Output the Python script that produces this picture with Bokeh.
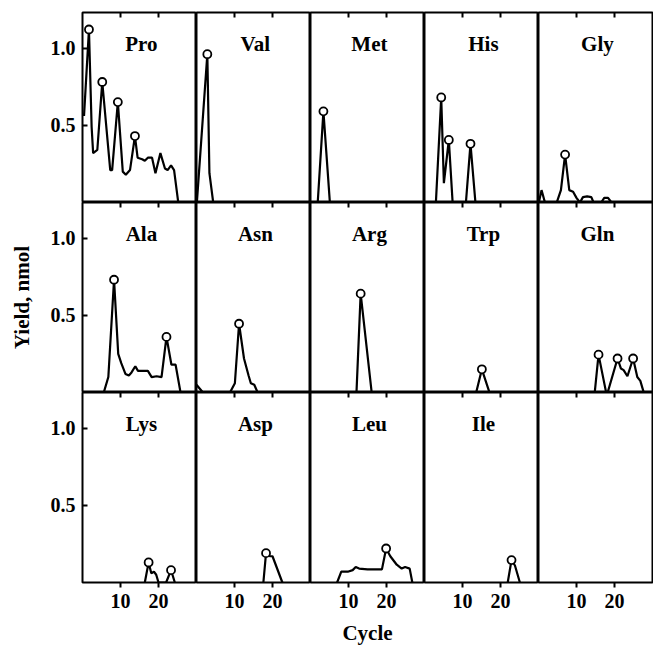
from bokeh.plotting import figure
from bokeh.layouts import gridplot
from bokeh.models import LinearAxis, FixedTicker, Label, ColumnDataSource, PrintfTickFormatter
from bokeh.embed import file_html
from bokeh.resources import INLINE

# ---------------- data ----------------
X_TICKS = [10, 20]
Y_TICKS = [0.5, 1.0]
X_RANGE = (0, 30)
Y_RANGE = (0, 1.23)

PRO_X = [0.4, 1.7, 2.4, 2.8, 3.9, 5.2, 7.3, 7.8, 9.3, 10.6, 11.4, 12.5, 13.8, 14.5,
         15.7, 16.4, 17.2, 18.3, 19.2, 20.5, 21.7, 22.4, 23.3, 24.1, 25.2]
PRO_Y = [0.56, 1.12, 0.49, 0.32, 0.34, 0.78, 0.21, 0.21, 0.65, 0.20, 0.18, 0.21, 0.43, 0.29,
         0.28, 0.27, 0.29, 0.29, 0.19, 0.32, 0.22, 0.21, 0.24, 0.21, 0.0]
PRO_MARK = [1, 5, 8, 12]

VAL_X = [0.1, 2.85, 3.4, 4.4]
VAL_Y = [0.0, 0.96, 0.19, 0.0]
VAL_MARK = [1]

MET_X = [1.9, 3.4, 5.1]
MET_Y = [0.0, 0.59, 0.0]
MET_MARK = [1]

HIS_X = [3.0, 4.4, 5.1, 6.4, 7.4, 10.9, 12.1, 13.4]
HIS_Y = [0.0, 0.68, 0.125, 0.405, 0.0, 0.0, 0.38, 0.0]
HIS_MARK = [1, 3, 6]

GLY_X = [0.1, 0.8, 1.7, 4.8, 5.9, 7.0, 8.1, 9.1, 10.0, 10.9, 11.7, 12.8, 13.9, 14.5,
         16.5, 17.3, 18.3, 19.2]
GLY_Y = [0.0, 0.08, 0.0, 0.0, 0.08, 0.31, 0.08, 0.07, 0.03, 0.0, 0.035, 0.04, 0.035, 0.0,
         0.0, 0.03, 0.03, 0.0]
GLY_MARK = [5]

ALA_X = [5.6, 6.8, 8.3, 9.4, 10.2, 11.3, 12.2, 12.9, 13.9, 14.6, 15.6, 17.2, 18.2, 19.5,
         20.8, 22.1, 23.4, 24.5, 25.8]
ALA_Y = [0.0, 0.10, 0.73, 0.25, 0.19, 0.12, 0.11, 0.13, 0.17, 0.14, 0.14, 0.14, 0.10, 0.105,
         0.10, 0.36, 0.18, 0.18, 0.0]
ALA_MARK = [2, 15]

ASN_X = [0.0, 1.7, 8.8, 10.1, 11.2, 12.5, 13.7, 14.3, 15.2, 16.1]
ASN_Y = [0.05, 0.0, 0.0, 0.06, 0.445, 0.22, 0.11, 0.06, 0.05, 0.0]
ASN_MARK = [4]

ARG_X = [12.1, 13.2, 16.1]
ARG_Y = [0.0, 0.64, 0.0]
ARG_MARK = [1]

TRP_X = [13.6, 15.1, 17.1]
TRP_Y = [0.0, 0.15, 0.0]
TRP_MARK = [1]

GLN_X = [14.8, 15.8, 17.8, 18.2, 20.8, 21.7, 22.4, 23.4, 24.9, 26.0, 26.8, 27.7]
GLN_Y = [0.0, 0.245, 0.0, 0.0, 0.22, 0.155, 0.145, 0.105, 0.22, 0.10, 0.075, 0.0]
GLN_MARK = [1, 4, 8]

LYS_X = [16.4, 17.4, 18.1, 18.8, 19.4, 20.0, 22.0, 23.3, 24.3]
LYS_Y = [0.0, 0.13, 0.06, 0.07, 0.05, 0.0, 0.0, 0.08, 0.0]
LYS_MARK = [1, 7]

ASP_X = [17.6, 18.3, 19.3, 20.0, 22.6]
ASP_Y = [0.0, 0.19, 0.17, 0.17, 0.0]
ASP_MARK = [1]

LEU_X = [7.0, 8.1, 9.8, 11.1, 11.9, 12.8, 15.0, 18.8, 19.9, 21.0, 22.7, 24.0, 24.9, 26.1, 26.8]
LEU_Y = [0.0, 0.07, 0.07, 0.08, 0.10, 0.09, 0.085, 0.085, 0.22, 0.17, 0.115, 0.09, 0.10, 0.09, 0.0]
LEU_MARK = [8]

ILE_X = [21.9, 22.9, 23.8, 25.1]
ILE_Y = [0.0, 0.145, 0.11, 0.0]
ILE_MARK = [1]

PANELS = [
    ("Pro", PRO_X, PRO_Y, PRO_MARK), ("Val", VAL_X, VAL_Y, VAL_MARK),
    ("Met", MET_X, MET_Y, MET_MARK), ("His", HIS_X, HIS_Y, HIS_MARK),
    ("Gly", GLY_X, GLY_Y, GLY_MARK),
    ("Ala", ALA_X, ALA_Y, ALA_MARK), ("Asn", ASN_X, ASN_Y, ASN_MARK),
    ("Arg", ARG_X, ARG_Y, ARG_MARK), ("Trp", TRP_X, TRP_Y, TRP_MARK),
    ("Gln", GLN_X, GLN_Y, GLN_MARK),
    ("Lys", LYS_X, LYS_Y, LYS_MARK), ("Asp", ASP_X, ASP_Y, ASP_MARK),
    ("Leu", LEU_X, LEU_Y, LEU_MARK), ("Ile", ILE_X, ILE_Y, ILE_MARK),
    ("", [], [], []),
]

# ---------------- styling ----------------
FONT = "Liberation Serif"
FW, FH = 114, 190
NCOL, NROW = 5, 3

rows = []
for r in range(NROW):
    row = []
    for c in range(NCOL):
        name, xs, ys, mark = PANELS[r * NCOL + c]
        p = figure(frame_width=FW, frame_height=FH, x_range=X_RANGE, y_range=Y_RANGE,
                   x_axis_location=None, y_axis_location=None,
                   output_backend="svg", toolbar_location=None,
                   min_border=0,
                   min_border_left=82 if c == 0 else 0,
                   min_border_top=12 if r == 0 else 0,
                   min_border_bottom=66 if r == NROW - 1 else 0,
                   min_border_right=1 if c == NCOL - 1 else 0)
        p.grid.visible = False
        p.outline_line_color = "black"
        p.outline_line_width = 2
        p.background_fill_color = "white"
        p.border_fill_color = "white"

        top = LinearAxis(ticker=FixedTicker(ticks=X_TICKS), major_tick_in=5, major_tick_out=0,
                         minor_tick_line_color=None, axis_line_color=None,
                         major_tick_line_width=2, major_tick_line_color="black",
                         major_label_text_color=None,
                         major_label_text_font_size="0px", major_label_standoff=0)
        p.add_layout(top, "above")

        if r == NROW - 1:
            bot = LinearAxis(ticker=FixedTicker(ticks=X_TICKS), major_tick_in=0, major_tick_out=5,
                             minor_tick_line_color=None, axis_line_color=None,
                             major_tick_line_width=2, major_tick_line_color="black",
                             major_label_text_font=FONT, major_label_text_font_style="bold",
                             major_label_text_color="black",
                             major_label_text_font_size="20px", major_label_standoff=6)
            if c == 2:
                bot.axis_label = "Cycle"
                bot.axis_label_text_font = FONT
                bot.axis_label_text_font_style = "bold"
                bot.axis_label_text_color = "black"
                bot.axis_label_text_font_size = "21px"
                bot.axis_label_standoff = 10
            p.add_layout(bot, "below")

        if c == 0:
            left = LinearAxis(ticker=FixedTicker(ticks=Y_TICKS), major_tick_in=5, major_tick_out=0,
                              minor_tick_line_color=None, axis_line_color=None,
                              major_tick_line_width=2, major_tick_line_color="black",
                              formatter=PrintfTickFormatter(format="%.1f"),
                              major_label_text_font=FONT, major_label_text_font_style="bold",
                              major_label_text_color="black",
                              major_label_text_font_size="20px", major_label_standoff=7)
            if r == 1:
                left.axis_label = "Yield, nmol"
                left.axis_label_text_font = FONT
                left.axis_label_text_font_style = "bold"
                left.axis_label_text_color = "black"
                left.axis_label_text_font_size = "21px"
                left.axis_label_standoff = 14
            p.add_layout(left, "left")

        if xs:
            src = ColumnDataSource(dict(x=xs, y=ys))
            p.line("x", "y", source=src, line_color="black", line_width=2.2)
            msrc = ColumnDataSource(dict(x=[xs[i] for i in mark], y=[ys[i] for i in mark]))
            p.scatter("x", "y", source=msrc, marker="circle", size=8, fill_color="white",
                      line_color="black", line_width=1.8)
        if name:
            p.add_layout(Label(x=15.5, y=1.025, text=name, text_align="center",
                               text_baseline="alphabetic", text_font=FONT,
                               text_color="black",
                               text_font_style="bold", text_font_size="21px"))
        row.append(p)
    rows.append(row)

grid = gridplot(rows, toolbar_location=None)

open("out.html", "w").write(file_html(grid, INLINE))
